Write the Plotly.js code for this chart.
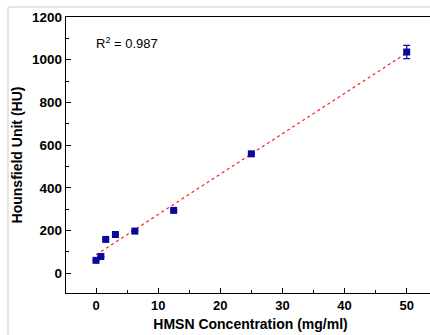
<!DOCTYPE html>
<html>
<head>
<meta charset="utf-8">
<script src="https://cdn.plot.ly/plotly-3.0.1.min.js"></script>
<style>
html,body{margin:0;padding:0;overflow:hidden;background:#fff;}
#chart{width:445px;height:335px;}
</style>
</head>
<body>
<div id="chart"></div>
<script>
// Data
const concentration = [0, 0.78, 1.56, 3.125, 6.25, 12.5, 25, 50];
const hounsfield = [60, 78, 158, 181, 197, 294, 559, 1036];
const hounsfieldErr = [0, 0, 0, 0, 0, 0, 0, 31];
const r2Label = "R<sup>2</sup> = 0.987";
const xTitle = "HMSN Concentration (mg/ml)";
const yTitle = "Hounsfield Unit (HU)";

// Least-squares linear fit computed from the data
const n = concentration.length;
const mx = concentration.reduce((a,b)=>a+b,0)/n;
const my = hounsfield.reduce((a,b)=>a+b,0)/n;
let sxy=0, sxx=0;
for(let i=0;i<n;i++){sxy+=(concentration[i]-mx)*(hounsfield[i]-my);sxx+=(concentration[i]-mx)**2;}
const slope = sxy/sxx, intercept = my - slope*mx;
const fitX = [Math.min(...concentration), Math.max(...concentration)];
const fitY = fitX.map(x=>intercept+slope*x);

const fontFam = "Liberation Sans, Arial, sans-serif";

const traces = [
  {x: fitX, y: fitY, mode:'lines', line:{color:'#ff2020', width:1.2, dash:'dot'}, hoverinfo:'skip'},
  {x: concentration, y: hounsfield, mode:'markers',
   marker:{symbol:'square', size:7, color:'#0a0a9a'},
   error_y:{type:'data', array:hounsfieldErr, visible:true, color:'#0a0a9a', thickness:1.2, width:3.5}}
];

const layout = {
  width:445, height:335,
  margin:{l:66, r:10, t:17, b:42},
  paper_bgcolor:'#ffffff', plot_bgcolor:'#ffffff',
  showlegend:false,
  font:{family:fontFam, size:12, color:'#000'},
  xaxis:{
    range:[-4.83, 54.55], tickvals:[0,10,20,30,40,50], ticktext:['0','10','20','30','40','50'],
    ticks:'inside', ticklen:5, tickwidth:1, tickcolor:'#000',
    minor:{tickvals:[5,15,25,35,45], ticks:'inside', ticklen:3, tickcolor:'#000'},
    showgrid:false, zeroline:false, showline:true, linecolor:'#000', linewidth:1.2, mirror:true,
    tickfont:{family:fontFam, size:13, weight:'bold'},
    title:{text:'<b>'+xTitle+'</b>', font:{family:fontFam, size:14}, standoff:7}
  },
  yaxis:{
    range:[-93, 1200], tickvals:[0,200,400,600,800,1000,1200],
    ticks:'inside', ticklen:5, tickwidth:1, tickcolor:'#000',
    minor:{tickvals:[100,300,500,700,900,1100], ticks:'inside', ticklen:3, tickcolor:'#000'},
    showgrid:false, zeroline:false, showline:true, linecolor:'#000', linewidth:1.2, mirror:true,
    tickfont:{family:fontFam, size:13.5, weight:'bold'},
    title:{text:'<b>'+yTitle+'</b>', font:{family:fontFam, size:14}, standoff:6}
  },
  annotations:[
    {xref:'paper', yref:'paper', x:0.075, y:0.905, xanchor:'left', yanchor:'middle',
     text:r2Label, showarrow:false, font:{family:fontFam, size:13, color:'#000'}}
  ],
  shapes:[
    {type:'line', xref:'paper', yref:'paper', xsizemode:'pixel', ysizemode:'pixel',
     xanchor:0, yanchor:1, x0:-58, x1:400, y0:10, y1:10, line:{color:'#cccccc', width:1}},
    {type:'line', xref:'paper', yref:'paper', xsizemode:'pixel', ysizemode:'pixel',
     xanchor:0, yanchor:1, x0:-58, x1:-58, y0:10, y1:-330, line:{color:'#cccccc', width:1}}
  ]
};

Plotly.newPlot('chart', traces, layout, {displayModeBar:false, staticPlot:true});
</script>
</body>
</html>
